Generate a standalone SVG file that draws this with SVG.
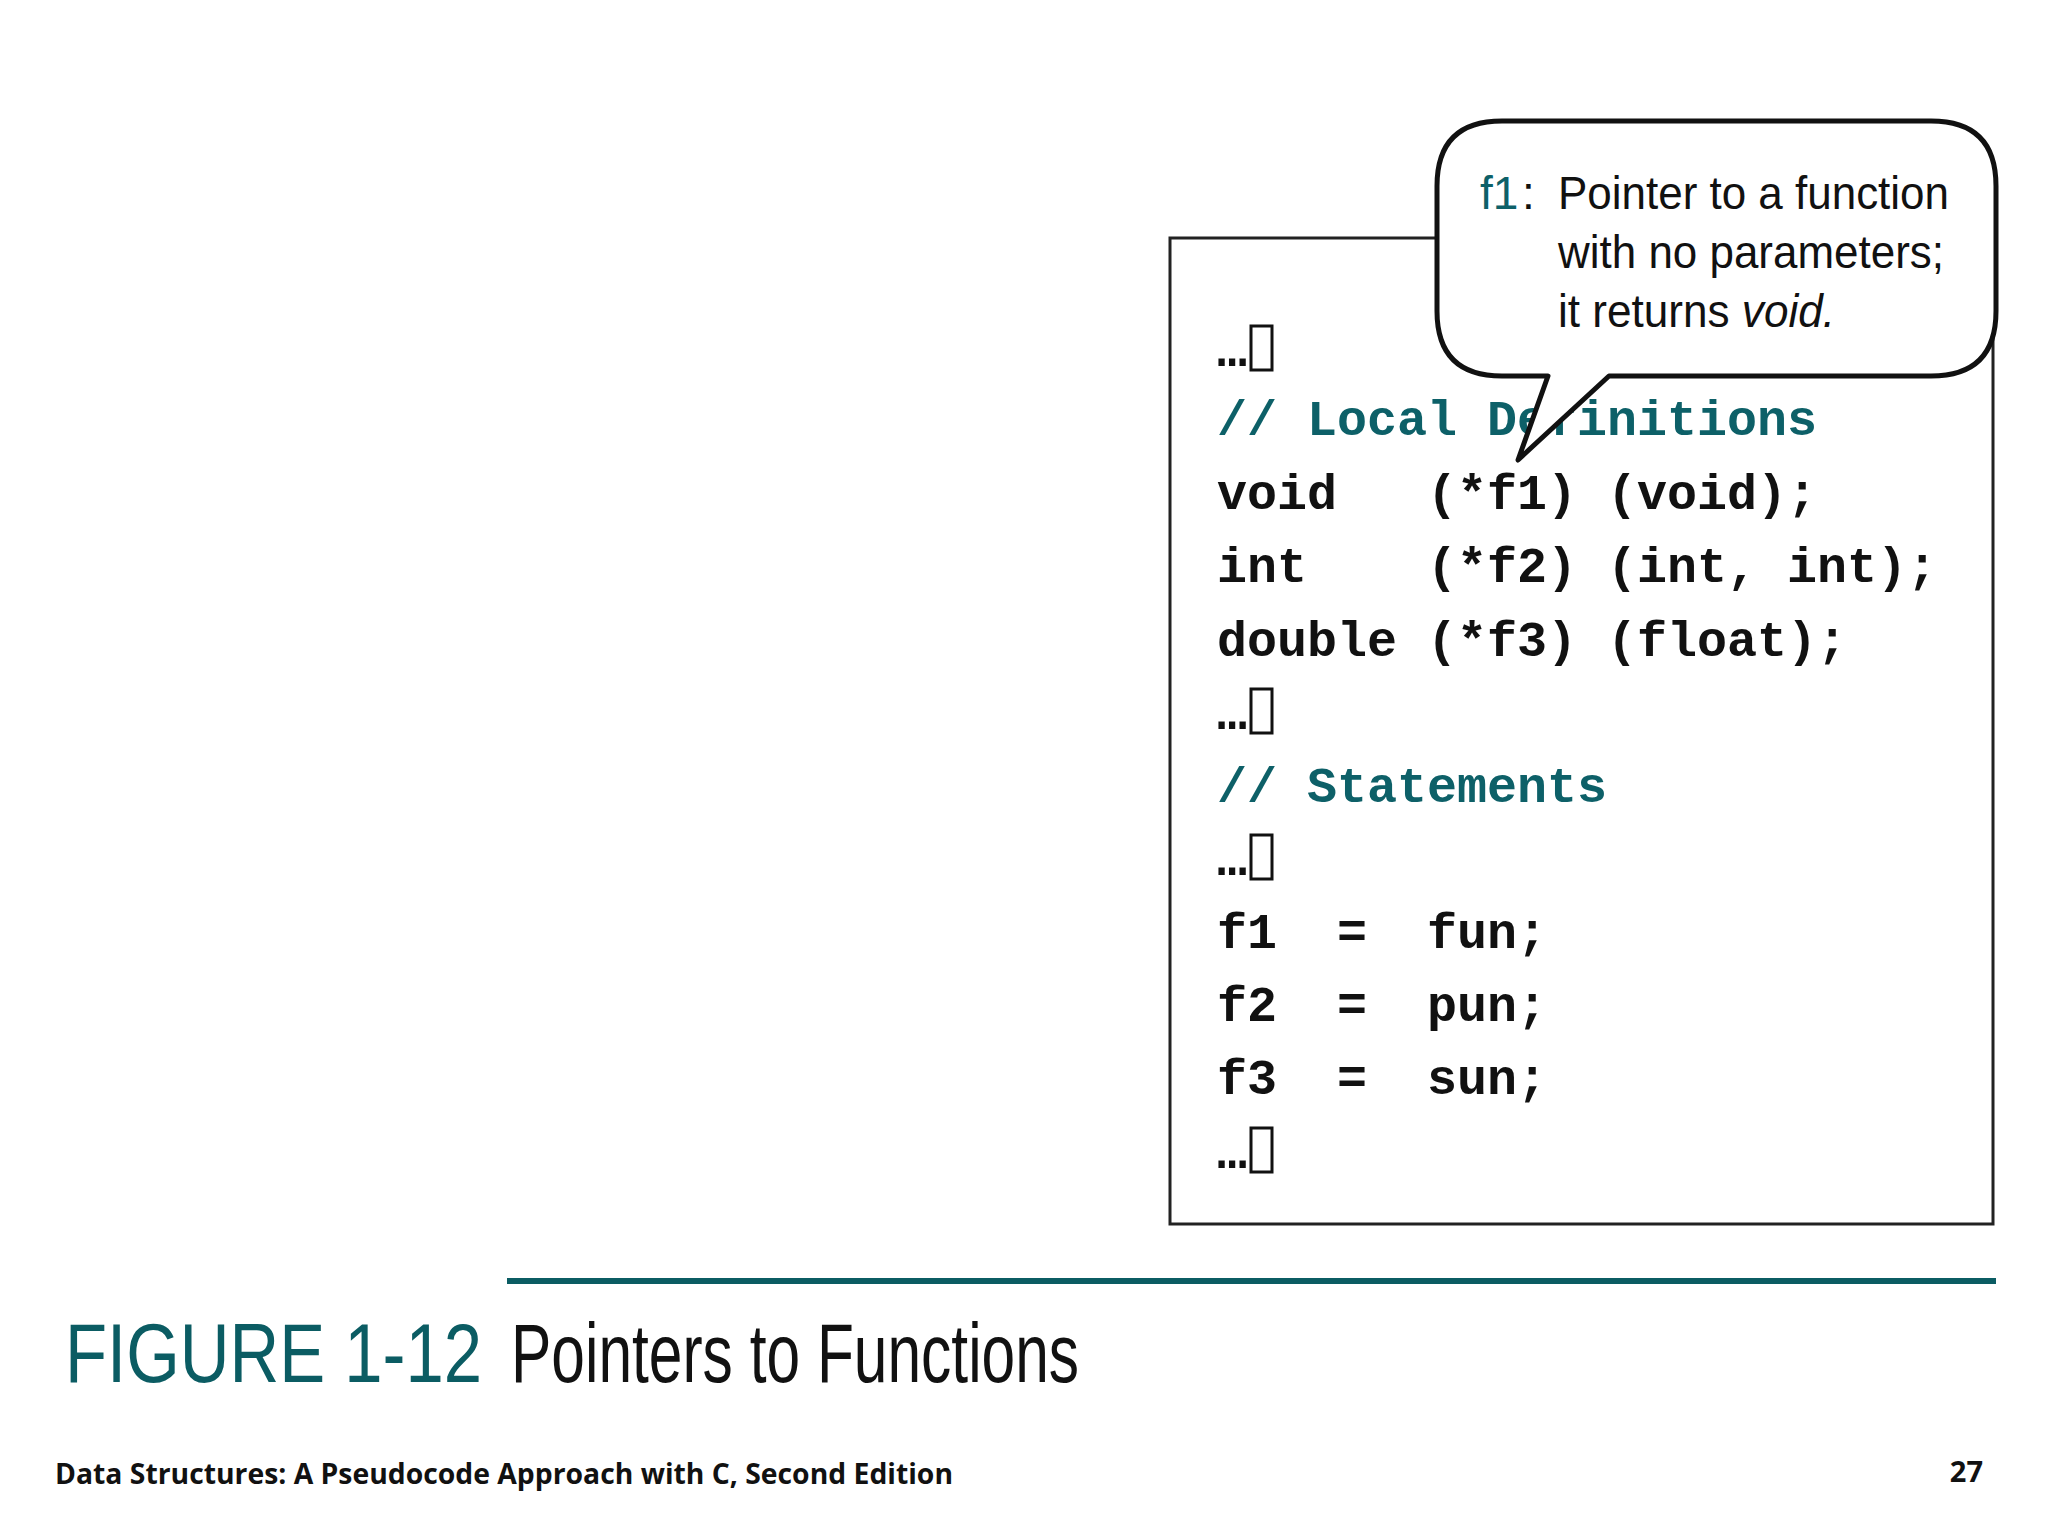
<svg xmlns="http://www.w3.org/2000/svg" width="2048" height="1536" viewBox="0 0 2048 1536">
<style>
.code{font-family:"Liberation Mono",monospace;font-weight:bold;font-size:50px;fill:#111}
.cm{fill:#0d6068}
.call{font-family:"Liberation Sans",Arial,sans-serif;font-size:46px;fill:#111}
.tofu{fill:none;stroke:#111;stroke-width:3}
</style>
<rect width="2048" height="1536" fill="#fff"/>
<g id="codebox">
<rect x="1170" y="238" width="823" height="986" fill="#fff" stroke="#222" stroke-width="3"/>
<text class="code" x="1217" y="366">…</text><rect class="tofu" x="1251" y="326" width="21" height="44"/>
<text class="code cm" x="1217" y="435">// Local Definitions</text>
<text class="code" x="1217" y="509" xml:space="preserve">void   (*f1) (void);</text>
<text class="code" x="1217" y="582" xml:space="preserve">int    (*f2) (int, int);</text>
<text class="code" x="1217" y="656" xml:space="preserve">double (*f3) (float);</text>
<text class="code" x="1217" y="729">…</text><rect class="tofu" x="1251" y="689" width="21" height="44"/>
<text class="code cm" x="1217" y="802">// Statements</text>
<text class="code" x="1217" y="875">…</text><rect class="tofu" x="1251" y="835" width="21" height="44"/>
<text class="code" x="1217" y="948" xml:space="preserve">f1  =  fun;</text>
<text class="code" x="1217" y="1021" xml:space="preserve">f2  =  pun;</text>
<text class="code" x="1217" y="1094" xml:space="preserve">f3  =  sun;</text>
<text class="code" x="1217" y="1168">…</text><rect class="tofu" x="1251" y="1128" width="21" height="44"/>
</g>
<g id="callout">
<path d="M1502,121 H1931 Q1996,121 1996,186 V311 Q1996,376 1931,376 H1609 L1518,460 L1548,376 H1502 Q1437,376 1437,311 V186 Q1437,121 1502,121 Z" fill="#fff" stroke="#111" stroke-width="5" stroke-linejoin="round"/>
<text class="call" x="1480" y="209" style="fill:#0d6068">f1</text>
<text class="call" x="1522" y="209">:</text>
<text class="call" x="1558" y="209" textLength="391" lengthAdjust="spacingAndGlyphs">Pointer to a function</text>
<text class="call" x="1558" y="268" textLength="386" lengthAdjust="spacingAndGlyphs">with no parameters;</text>
<text class="call" x="1558" y="327" textLength="277" lengthAdjust="spacingAndGlyphs">it returns <tspan font-style="italic">void.</tspan></text>
</g>
<g id="caption">
<rect x="507" y="1278" width="1489" height="6" fill="#0b5c63"/>
<text transform="translate(65,1382) scale(0.82,1)" x="0" y="0" font-family="Liberation Sans,Arial,sans-serif" font-size="84" fill="#0b5c63">FIGURE 1-12</text>
<text transform="translate(511,1382) scale(0.72,1)" x="0" y="0" font-family="Liberation Sans,Arial,sans-serif" font-size="84" fill="#111">Pointers to Functions</text>
</g>
<g id="footer">
<text x="55" y="1484" font-family="Open Sans,sans-serif" font-weight="bold" font-size="29" fill="#111" textLength="898" lengthAdjust="spacingAndGlyphs">Data Structures: A Pseudocode Approach with C, Second Edition</text>
<text x="1983" y="1482" font-family="Open Sans,sans-serif" font-weight="bold" font-size="29" fill="#111" text-anchor="end">27</text>
</g>
</svg>
